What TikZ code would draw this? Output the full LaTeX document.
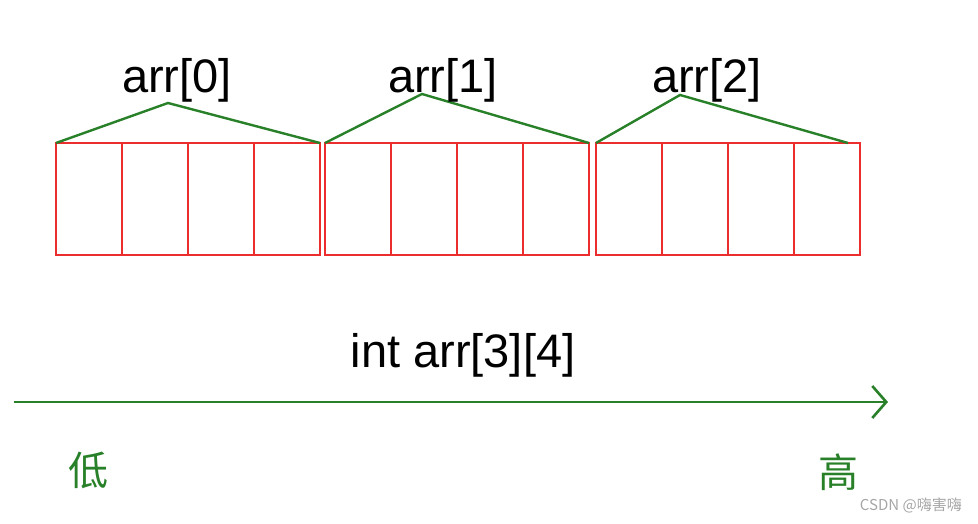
\documentclass[tikz,border=0pt]{standalone}
\usepackage{fontspec}
\setmainfont{Liberation Sans}
\newfontfamily\cjk{Noto Sans CJK SC}
\usetikzlibrary{arrows.meta}
\definecolor{gr}{RGB}{40,128,40}
\definecolor{rd}{RGB}{235,45,45}
\begin{document}
\begin{tikzpicture}[x=1pt,y=-1pt,
  cell/.style={draw=rd,line width=2.4pt,minimum width=66pt,minimum height=112pt,inner sep=0,outer sep=0,anchor=north west},
  roof/.style={draw=gr,line width=2.4pt},
  lbl/.style={font=\fontsize{47}{50}\selectfont,inner sep=0}]
\useasboundingbox (0,0) rectangle (978,524);
\foreach \g/\x in {0/56,1/325,2/596}{
  \foreach \i in {0,...,3}{
    \node[cell] (c\g\i) at ({\x+66*\i},143) {};
  }
}
\coordinate (p0) at (168,103); \coordinate (p1) at (422,94); \coordinate (p2) at (680,95);
\draw[roof] (c00.north west) -- (p0) -- (c03.north east);
\draw[roof] (c10.north west) -- (p1) -- (c13.north east);
\draw[roof] (c20.north west) -- (p2) -- ([xshift=-12pt]c23.north east);
\node[lbl] (l0) at (177,80) {arr[0]};
\node[lbl] (l1) at (443,80) {arr[1]};
\node[lbl] (l2) at (707,80) {arr[2]};
\node[lbl] (t) at (463,355) {int arr[3][4]};
\coordinate (a0) at (14,402); \coordinate (a1) at (888,402);
\draw[gr,line width=2.6pt,-{Straight Barb[length=14pt,width=32pt,line width=2.6pt]}] (a0) -- (a1);
\node[font=\cjk\fontsize{40}{42}\selectfont,text=gr,inner sep=0] (lo) at (88,470) {低};
\node[font=\cjk\fontsize{40}{42}\selectfont,text=gr,inner sep=0] (hi) at (838,472) {高};
\node[font=\cjk\fontsize{15}{16}\selectfont,text=gray!70,inner sep=0,anchor=east] (wm) at (962,505) {CSDN @嗨害嗨};
\end{tikzpicture}
\end{document}
